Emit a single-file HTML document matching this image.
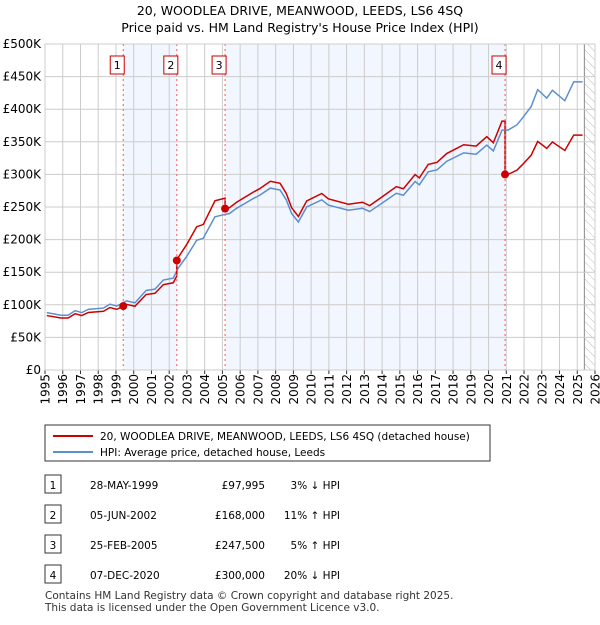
<!DOCTYPE html>
<html><head><meta charset="utf-8"><style>
body{margin:0;background:#fff;font-family:"Liberation Sans","DejaVu Sans",sans-serif;}
svg text{font-family:"DejaVu Sans","Liberation Sans",sans-serif;}
</style></head><body>
<svg id="c" width="600" height="620" viewBox="0 0 600 620" xmlns="http://www.w3.org/2000/svg">
<defs><pattern id="hatch" width="6" height="6" patternUnits="userSpaceOnUse" patternTransform="rotate(-45)"><line x1="0" y1="0" x2="0" y2="6" stroke="#bbb" stroke-width="1"/></pattern></defs>
<text x="300" y="15" text-anchor="middle" font-size="12.5">20, WOODLEA DRIVE, MEANWOOD, LEEDS, LS6 4SQ</text>
<text x="300" y="32" text-anchor="middle" font-size="12.5">Price paid vs. HM Land Registry's House Price Index (HPI)</text>
<g id="plot"></g>
<g>
<rect x="45" y="425" width="445" height="36" fill="#fff" stroke="#333"/>
<line x1="53" y1="436" x2="93" y2="436" stroke="#cc0000" stroke-width="2"/>
<text x="100" y="440" font-size="10.5">20, WOODLEA DRIVE, MEANWOOD, LEEDS, LS6 4SQ (detached house)</text>
<line x1="53" y1="452" x2="93" y2="452" stroke="#5b8fd0" stroke-width="2"/>
<text x="100" y="456" font-size="10.5">HPI: Average price, detached house, Leeds</text>
</g>
<g id="tbl" font-size="10.5"></g>
<text x="45" y="599" font-size="10.5" fill="#333">Contains HM Land Registry data © Crown copyright and database right 2025.</text>
<text x="45" y="611" font-size="10.5" fill="#333">This data is licensed under the Open Government Licence v3.0.</text>
</svg>
<script>
const hpiYears=[1995.1,1995.9,1996.3,1996.7,1997.07,1997.44,1998.3,1998.66,1999.04,1999.6,2000.07,2000.7,2001.2,2001.67,2002.23,2002.5,2002.98,2003.55,2003.92,2004.58,2005.05,2005.4,2005.8,2006.74,2007.1,2007.7,2008.25,2008.6,2008.9,2009.28,2009.75,2010.6,2010.97,2012.1,2012.9,2013.3,2014,2014.8,2015.2,2015.86,2016.1,2016.6,2017.1,2017.64,2018.6,2019.3,2019.9,2020.27,2020.76,2021.1,2021.6,2021.9,2022.4,2022.77,2023.28,2023.6,2024.3,2024.8,2025.3];
const hpiValues=[88,84,84,91,88,93,95,101,98,106,103,122,124,138,141,156,174,199,202,235,238,240,248,263,268,279,276,261,240,227,250,261,253,245,248,243,256,271,268,289,284,304,307,320,333,331,345,336,368,368,376,386,404,430,417,429,413,442,442];
const saleYears=[1999.41,2002.43,2005.15,2020.93];
const salePrices=[97.995,168,247.5,300];
const saleLabels=["1","2","3","4"];
const saleDates=["28-MAY-1999","05-JUN-2002","25-FEB-2005","07-DEC-2020"];
const salePriceText=["£97,995","£168,000","£247,500","£300,000"];
const saleHpiText=["3% ↓ HPI","11% ↑ HPI","5% ↑ HPI","20% ↓ HPI"];
const yTicks=[0,50,100,150,200,250,300,350,400,450,500];
const yTickLabels=["£0","£50K","£100K","£150K","£200K","£250K","£300K","£350K","£400K","£450K","£500K"];
const xTicks=[1995,1996,1997,1998,1999,2000,2001,2002,2003,2004,2005,2006,2007,2008,2009,2010,2011,2012,2013,2014,2015,2016,2017,2018,2019,2020,2021,2022,2023,2024,2025,2026];

const L=45,R=595,T=44,B=370;
const X=y=>L+(y-1995)/(2026-1995)*(R-L);
const Y=v=>B-v/500*(B-T);
const NS="http://www.w3.org/2000/svg";
const plot=document.getElementById('plot');
function mk(tag,attrs,parent){const e=document.createElementNS(NS,tag);for(const k in attrs)e.setAttribute(k,attrs[k]);(parent||plot).appendChild(e);return e;}
function hpiAt(t){if(t<=hpiYears[0])return hpiValues[0];for(let i=1;i<hpiYears.length;i++){if(t<=hpiYears[i]){const f=(t-hpiYears[i-1])/(hpiYears[i]-hpiYears[i-1]);return hpiValues[i-1]+f*(hpiValues[i]-hpiValues[i-1]);}}return hpiValues[hpiValues.length-1];}

for(let i=0;i<saleYears.length-1;i+=2){
 const r=mk('rect',{x:X(saleYears[i]),y:T,width:X(saleYears[i+1])-X(saleYears[i]),height:B-T,fill:'#eef3fd',opacity:0.75});
 
 
}
const xEnd=2025.4;
const hr=mk('rect',{x:X(xEnd),y:T,width:R-X(xEnd),height:B-T,fill:'url(#hatch)'});


mk('line',{x1:X(xEnd),y1:T,x2:X(xEnd),y2:B,stroke:'#888','stroke-width':1});
yTicks.forEach((v,i)=>{
 const g=mk('line',{x1:L,y1:Y(v),x2:R,y2:Y(v),stroke:'#ccc','stroke-width':1});
 
 
 const t=mk('text',{x:L-4,y:Y(v)+4,'text-anchor':'end','font-size':12});
 t.textContent=yTickLabels[i];
 
 
});
xTicks.forEach(y=>{
 const g=mk('line',{x1:X(y),y1:T,x2:X(y),y2:B,stroke:'#ccc','stroke-width':1});
 
 
 mk('line',{x1:X(y),y1:B,x2:X(y),y2:B+4,stroke:'#333'});
 const t=mk('text',{x:0,y:0,'text-anchor':'end','font-size':12,transform:'translate('+(X(y)+4.5)+','+(B+4)+') rotate(-90)'});
 t.textContent=y;
 
 
});
const hp=mk('polyline',{points:hpiYears.map((y,i)=>X(y)+','+Y(hpiValues[i])).join(' '),fill:'none',stroke:'#5b8fd0','stroke-width':1.5});


const pts=[];
const ratios=saleYears.map((s,i)=>salePrices[i]/hpiAt(s));
function ratioAt(t){let k=0;for(let i=0;i<saleYears.length;i++)if(t>=saleYears[i])k=i;return ratios[k];}
const times=[...hpiYears];saleYears.forEach(s=>{times.push(s-0.001);times.push(s);});times.sort((a,b)=>a-b);
times.forEach(t=>pts.push(X(t)+','+Y(hpiAt(t)*ratioAt(t))));
const pl=mk('polyline',{points:pts.join(' '),fill:'none',stroke:'#cc0000','stroke-width':1.5});


saleYears.forEach((s,i)=>{
 const l=mk('line',{x1:X(s),y1:T,x2:X(s),y2:B,stroke:'#ff5555','stroke-width':1,'stroke-dasharray':'2,3'});
 
 
 const c=mk('circle',{cx:X(s),cy:Y(salePrices[i]),r:4,fill:'#cc0000'});
 
 
 const bx=mk('rect',{x:X(s)-13,y:56,width:14,height:18,fill:'#fff',stroke:'#cc0000'});
 
 
 const t=mk('text',{x:X(s)-6,y:69,'text-anchor':'middle','font-size':11});
 t.textContent=saleLabels[i];
 
 
});
mk('rect',{x:L,y:T,width:R-L,height:B-T,fill:'none',stroke:'#ccc'});
const tbl=document.getElementById('tbl');
saleYears.forEach((s,i)=>{
 const y=487+i*30;
 const b=mk('rect',{x:45,y:y-12,width:16,height:18,fill:'#fff',stroke:'#333'},tbl);
 
 
 const cells=[[53,'middle',saleLabels[i]],[90,'start',saleDates[i]],[265,'end',salePriceText[i]],[340,'end',saleHpiText[i]]];
 cells.forEach(c=>{const t=mk('text',{x:c[0],y:y+2,'text-anchor':c[1]},tbl);t.textContent=c[2];
  
  });
});
</script>
</body></html>
